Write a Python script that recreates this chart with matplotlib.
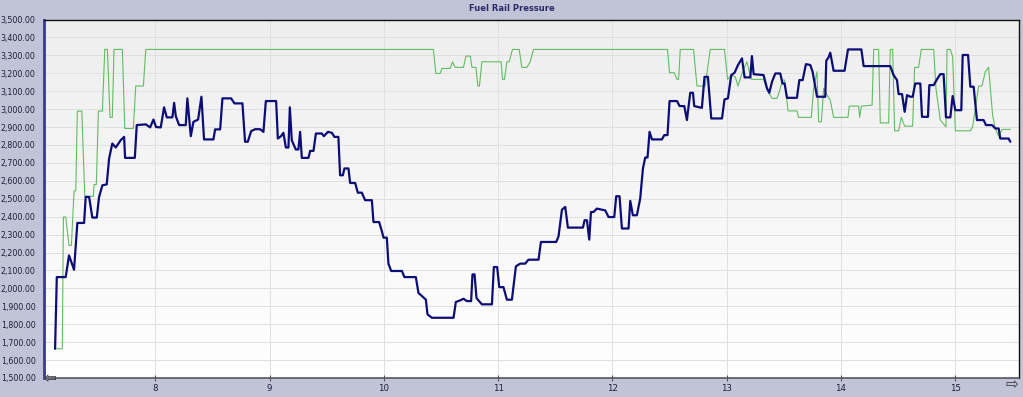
import numpy as np
import matplotlib
matplotlib.use("Agg")
import matplotlib.pyplot as plt
from matplotlib.ticker import FuncFormatter, MultipleLocator

# =============================================================================
# DATOS
# =============================================================================

blue_t = [7.122, 7.137, 7.215, 7.244, 7.288, 7.317, 7.376, 7.390, 7.420, 7.448,
          7.487, 7.507, 7.536, 7.574, 7.595, 7.623, 7.653, 7.697, 7.726, 7.735,
          7.820, 7.837, 7.916, 7.954, 7.983, 8.006, 8.047, 8.076, 8.100, 8.149,
          8.164, 8.179, 8.208, 8.266, 8.280, 8.310, 8.333, 8.374, 8.403, 8.426,
          8.508, 8.523, 8.567, 8.587, 8.663, 8.692, 8.762, 8.785, 8.809, 8.838,
          8.873, 8.917, 8.946, 8.967, 9.057, 9.072, 9.100, 9.121, 9.142, 9.165,
          9.177, 9.194, 9.209, 9.229, 9.252, 9.267, 9.282, 9.340, 9.355, 9.384,
          9.405, 9.457, 9.475, 9.510, 9.545, 9.567, 9.602, 9.617, 9.641, 9.655,
          9.690, 9.705, 9.749, 9.772, 9.807, 9.836, 9.895, 9.909, 9.959, 9.983,
          9.997, 10.026, 10.040, 10.064, 10.158, 10.180, 10.280, 10.303, 10.327, 10.368,
          10.382, 10.420, 10.610, 10.630, 10.668, 10.697, 10.727, 10.764, 10.776, 10.794,
          10.811, 10.858, 10.946, 10.963, 10.992, 11.010, 11.047, 11.077, 11.121, 11.156,
          11.193, 11.237, 11.266, 11.354, 11.375, 11.509, 11.529, 11.559, 11.588, 11.611,
          11.743, 11.757, 11.778, 11.798, 11.813, 11.835, 11.865, 11.938, 11.967, 12.017,
          12.034, 12.063, 12.084, 12.142, 12.157, 12.180, 12.215, 12.244, 12.268, 12.288,
          12.308, 12.326, 12.347, 12.434, 12.455, 12.483, 12.501, 12.566, 12.589, 12.630,
          12.653, 12.682, 12.706, 12.717, 12.784, 12.807, 12.837, 12.866, 12.960, 12.982,
          13.012, 13.041, 13.070, 13.100, 13.135, 13.158, 13.208, 13.222, 13.237, 13.324,
          13.354, 13.374, 13.398, 13.427, 13.470, 13.490, 13.508, 13.529, 13.616, 13.637,
          13.666, 13.695, 13.733, 13.753, 13.792, 13.864, 13.873, 13.893, 13.908, 13.937,
          14.033, 14.063, 14.180, 14.200, 14.433, 14.462, 14.492, 14.506, 14.536, 14.559,
          14.580, 14.609, 14.629, 14.652, 14.696, 14.711, 14.763, 14.775, 14.813, 14.842,
          14.871, 14.900, 14.921, 14.959, 14.979, 15.003, 15.055, 15.067, 15.114, 15.134,
          15.163, 15.192, 15.250, 15.271, 15.324, 15.353, 15.382, 15.396, 15.469, 15.484]

blue_p = [1663, 2063, 2063, 2184, 2104, 2365, 2365, 2510, 2510, 2395,
          2395, 2510, 2575, 2580, 2725, 2808, 2786, 2827, 2845, 2728,
          2728, 2911, 2915, 2898, 2942, 2900, 2898, 3010, 2954, 2954,
          3035, 2960, 2911, 2911, 3060, 2849, 2929, 2942, 3069, 2831,
          2831, 2887, 2887, 3060, 3060, 3032, 3032, 2818, 2818, 2877,
          2888, 2888, 2873, 3045, 3045, 2836, 2849, 2868, 2786, 2786,
          3010, 2827, 2804, 2775, 2775, 2873, 2728, 2728, 2767, 2767,
          2864, 2864, 2849, 2873, 2868, 2845, 2845, 2631, 2631, 2669,
          2669, 2588, 2588, 2534, 2534, 2492, 2492, 2370, 2370, 2318,
          2283, 2283, 2138, 2097, 2097, 2063, 2063, 1974, 1961, 1937,
          1855, 1836, 1836, 1924, 1933, 1942, 1929, 1929, 2078, 2078,
          1946, 1911, 1911, 2119, 2119, 2007, 2007, 1937, 1937, 2123,
          2138, 2138, 2160, 2160, 2259, 2259, 2290, 2439, 2454, 2339,
          2339, 2380, 2380, 2272, 2426, 2426, 2445, 2435, 2398, 2398,
          2514, 2514, 2334, 2334, 2488, 2408, 2408, 2501, 2669, 2730,
          2730, 2873, 2831, 2831, 2855, 2855, 3045, 3045, 3017, 3017,
          2939, 3091, 3091, 3017, 3007, 3180, 3180, 2948, 2948, 3054,
          3060, 3190, 3203, 3246, 3283, 3177, 3177, 3296, 3195, 3190,
          3116, 3091, 3153, 3199, 3199, 3143, 3143, 3063, 3063, 3162,
          3162, 3251, 3246, 3209, 3069, 3069, 3270, 3289, 3315, 3214,
          3214, 3333, 3333, 3240, 3240, 3190, 3162, 3084, 3084, 2985,
          3078, 3069, 3069, 3143, 3143, 2957, 2957, 3134, 3134, 3166,
          3195, 3195, 2954, 2954, 3073, 2994, 2994, 3302, 3302, 3125,
          3125, 2939, 2939, 2911, 2911, 2892, 2892, 2836, 2836, 2818]

green_t = [7.127, 7.185, 7.195, 7.215, 7.244, 7.265, 7.288, 7.303, 7.317, 7.356,
           7.382, 7.457, 7.463, 7.483, 7.501, 7.536, 7.557, 7.580, 7.603, 7.623,
           7.638, 7.711, 7.732, 7.807, 7.828, 7.895, 7.916, 10.434, 10.455, 10.493,
           10.508, 10.581, 10.601, 10.624, 10.697, 10.718, 10.756, 10.771, 10.806, 10.823,
           10.837, 10.858, 11.027, 11.039, 11.056, 11.077, 11.097, 11.126, 11.185, 11.208,
           11.252, 11.281, 11.310, 12.483, 12.501, 12.542, 12.566, 12.580, 12.595, 12.711,
           12.741, 12.813, 12.857, 12.982, 13.009, 13.041, 13.076, 13.100, 13.135, 13.178,
           13.216, 13.324, 13.354, 13.398, 13.441, 13.462, 13.490, 13.508, 13.538, 13.616,
           13.630, 13.742, 13.762, 13.792, 13.806, 13.830, 13.850, 13.888, 13.908, 13.937,
           14.063, 14.074, 14.156, 14.165, 14.180, 14.274, 14.288, 14.331, 14.346, 14.419,
           14.433, 14.454, 14.471, 14.506, 14.530, 14.559, 14.629, 14.646, 14.681, 14.705,
           14.813, 14.833, 14.871, 14.921, 14.930, 14.959, 14.979, 15.003, 15.134, 15.154,
           15.207, 15.236, 15.265, 15.294, 15.329, 15.353, 15.382, 15.412, 15.484]

green_p = [1663, 1663, 2398, 2398, 2240, 2240, 2544, 2544, 2989, 2989,
           2514, 2514, 2579, 2579, 2989, 2989, 3333, 3333, 2954, 2954,
           3333, 3333, 2892, 2892, 3129, 3129, 3333, 3333, 3199, 3199,
           3227, 3227, 3264, 3233, 3233, 3296, 3296, 3233, 3233, 3129,
           3129, 3264, 3264, 3166, 3166, 3264, 3264, 3333, 3333, 3233,
           3233, 3264, 3333, 3333, 3203, 3203, 3166, 3166, 3333, 3333,
           3129, 3129, 3333, 3333, 3166, 3190, 3180, 3129, 3199, 3264,
           3166, 3166, 3110, 3060, 3060, 3097, 3162, 3162, 2990, 2990,
           2954, 2954, 3116, 3209, 2929, 2929, 3116, 3069, 3050, 2954,
           2954, 3017, 3017, 2954, 3017, 3022, 3333, 3333, 2923, 2923,
           3333, 3333, 2879, 2879, 2954, 2905, 2905, 3233, 3233, 3333,
           3333, 3116, 2939, 2901, 3333, 3333, 3292, 2879, 2879, 2901,
           3129, 3129, 3209, 3233, 2966, 2892, 2849, 2887, 2887]

assert len(blue_t) == len(blue_p) and len(green_t) == len(green_p)

TITULO = "Fuel Rail Pressure"
X_MIN, X_MAX = 7.025, 15.56
Y_MIN, Y_MAX = 1500, 3500
X_TICKS = [8, 9, 10, 11, 12, 13, 14, 15]

# =============================================================================
# ESTILO
# =============================================================================

BG = "#C1C3D6"
C_BLUE = "#0D0D78"
C_GREEN = "#62BC62"
C_GRID = "#E0E0E0"
C_TXT = "#1E1E3C"

W, H = 1023, 397
fig = plt.figure(figsize=(W / 100, H / 100), dpi=100, facecolor=BG)
ax = fig.add_axes([44 / W, 1 - 378 / H, (1019 - 44) / W, (378 - 19.5) / H])

# fondo degradado gris claro -> blanco
grad = np.linspace(0, 1, 256).reshape(-1, 1)
ax.imshow(grad, aspect="auto", extent=[0, 1, 0, 1], transform=ax.transAxes,
          cmap=matplotlib.colors.LinearSegmentedColormap.from_list("g", ["#FFFFFF", "#EEEEEE"]),
          origin="lower", zorder=0)

ax.plot(green_t, green_p, color=C_GREEN, lw=0.8, zorder=3)
ax.plot(blue_t, blue_p, color=C_BLUE, lw=1.6, zorder=4,
        solid_joinstyle="round", solid_capstyle="round")

ax.set_xlim(X_MIN, X_MAX)
ax.set_ylim(Y_MIN, Y_MAX)
ax.set_xticks(X_TICKS)
ax.set_xticklabels([str(t) for t in X_TICKS])
ax.yaxis.set_major_locator(MultipleLocator(100))
ax.yaxis.set_major_formatter(FuncFormatter(lambda v, _: f"{v:,.2f}"))

ax.grid(True, color=C_GRID, lw=0.7, zorder=1)
ax.set_axisbelow(True)
ax.tick_params(axis="y", length=0, pad=6, labelsize=5.7, labelcolor=C_TXT)
ax.tick_params(axis="x", length=4, direction="inout", width=0.8, color="#555555",
               pad=2, labelsize=6.2, labelcolor=C_TXT)

ax.spines["left"].set_color("#3A3A8E")
ax.spines["left"].set_linewidth(2.0)
ax.spines["bottom"].set_color("#555560")
ax.spines["bottom"].set_linewidth(1.2)
ax.spines["top"].set_color("#111111")
ax.spines["top"].set_linewidth(1.0)
ax.spines["right"].set_color("#111111")
ax.spines["right"].set_linewidth(1.0)

fig.text(0.5, 1 - 8.5 / H, TITULO, ha="center", va="center",
         fontsize=6.0, fontweight="bold", color="#2B2B6B")

# flechas de desplazamiento
fig.text(50 / W, 1 - 379 / H, "\u21e6", ha="center", va="center",
         fontsize=11, color="#333333")
fig.text(1012 / W, 1 - 384 / H, "\u21e8", ha="center", va="center",
         fontsize=11, color="#333333")

fig.savefig("out.png", dpi=100, facecolor=BG)
